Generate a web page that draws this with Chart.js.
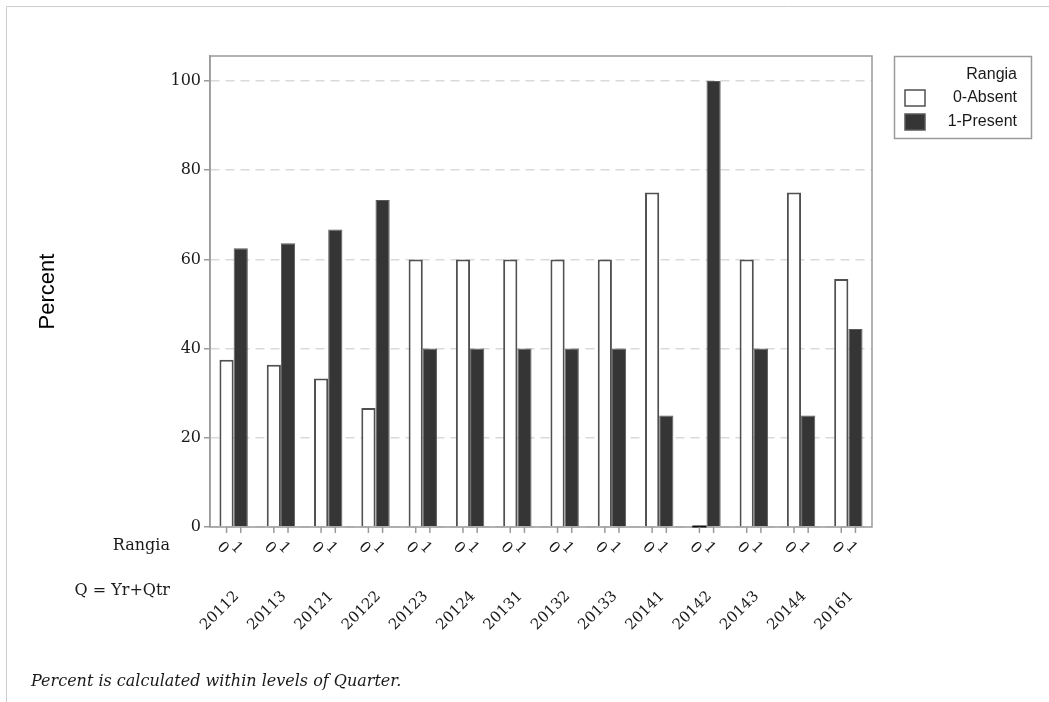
<!DOCTYPE html>
<html lang="en">
  <head>
    <title>Rangia by Quarter</title>
    <script src="https://cdn.jsdelivr.net/npm/chart.js"></script>
    <style>
      body { margin: 0; background: #fff; }
      #rangiaChart { position: absolute; left: 0; top: 0; }
    </style>
  </head>
  <body>
    <canvas id="rangiaChart" width="1049" height="702"></canvas>

    <script>
      // Quarter (Yr+Qtr) categories and percent within each quarter
      const quarters = ["20112", "20113", "20121", "20122", "20123", "20124", "20131",
        "20132", "20133", "20141", "20142", "20143", "20144", "20161"];
      const absentPct = [37.5, 36.4, 33.3, 26.7, 60, 60, 60, 60, 60, 75, 0, 60, 75, 55.6];
      const presentPct = [62.5, 63.6, 66.7, 73.3, 40, 40, 40, 40, 40, 25, 100, 40, 25, 44.4];
      const levelCodes = ["0", "1"];
      const levelNames = ["0-Absent", "1-Present"];

      const serif = "'DejaVu Serif', 'Liberation Serif', serif";
      const sans = "'Liberation Sans', Arial, sans-serif";
      const textColor = "#1a1a1a";
      const frameColor = "#9a9a9a";

      // draws the frame, the two rows of x labels, the legend and the footnote
      const extras = {
        id: "extras",
        beforeDraw(chart) {
          const c = chart.ctx;
          c.save();
          c.strokeStyle = "#cccccc";
          c.lineWidth = 1;
          c.beginPath();
          c.moveTo(6.5, 702);
          c.lineTo(6.5, 6.5);
          c.lineTo(1049, 6.5);
          c.stroke();
          c.restore();
        },
        afterDraw(chart) {
          const c = chart.ctx;
          const area = chart.chartArea;
          c.save();

          // plot frame
          c.strokeStyle = frameColor;
          c.lineWidth = 1.5;
          c.strokeRect(area.left, area.top, area.right - area.left, area.bottom - area.top);

          // tick marks and level labels under every bar
          c.font = "15px " + serif;
          c.textAlign = "center";
          c.textBaseline = "middle";
          chart.data.datasets.forEach((ds, d) => {
            chart.getDatasetMeta(d).data.forEach((bar, i) => {
              // a zero share still shows as a dark line on the baseline
              if (ds.data[i] === 0) {
                c.fillStyle = "#111";
                c.fillRect(bar.x - bar.width / 2, area.bottom - 1.5, bar.width, 2);
              }
              c.strokeStyle = frameColor;
              c.beginPath();
              c.moveTo(bar.x, area.bottom);
              c.lineTo(bar.x, area.bottom + 6);
              c.stroke();
              c.save();
              c.fillStyle = textColor;
              c.translate(bar.x - 4, area.bottom + 21);
              c.rotate(Math.PI / 4);
              c.fillText(levelCodes[d], 0, 0);
              c.restore();
            });
          });

          // quarter labels, rotated
          const xs = chart.scales.x;
          c.fillStyle = textColor;
          c.textAlign = "right";
          quarters.forEach((q, i) => {
            const x = xs.getPixelForValue(i);
            c.save();
            c.translate(x + 3, area.bottom + 67);
            c.rotate(-Math.PI / 4);
            c.fillText(q, 0, 0);
            c.restore();
          });

          // row labels
          c.font = "16px " + serif;
          c.fillText("Rangia", 170, area.bottom + 19);
          c.fillText("Q = Yr+Qtr", 170, area.bottom + 64);

          // footnote
          c.textAlign = "left";
          c.textBaseline = "alphabetic";
          c.font = "italic 16px " + serif;
          c.fillText("Percent is calculated within levels of Quarter.", 31, 686);

          // legend
          c.strokeStyle = frameColor;
          c.lineWidth = 1.5;
          c.strokeRect(894.5, 56.5, 137, 82);
          c.font = "16px " + sans;
          c.textAlign = "right";
          c.textBaseline = "middle";
          c.fillText("Rangia", 1017, 75);
          chart.data.datasets.forEach((ds, d) => {
            const y = 98 + d * 24;
            c.fillStyle = ds.backgroundColor;
            c.fillRect(905, y - 8, 20, 16);
            c.strokeStyle = ds.borderColor;
            c.lineWidth = 1.5;
            c.strokeRect(905, y - 8, 20, 16);
            c.fillStyle = textColor;
            c.fillText(levelNames[d], 1017, y);
          });
          c.restore();
        },
      };

      const ctx = document.getElementById("rangiaChart").getContext("2d");
      const chart = new Chart(ctx, {
        type: "bar",
        data: {
          labels: quarters,
          datasets: [
            {
              label: levelNames[0],
              data: absentPct,
              backgroundColor: "#ffffff",
              borderColor: "#505050",
              borderWidth: 2,
              categoryPercentage: 0.6,
              barPercentage: 1,
            },
            {
              label: levelNames[1],
              data: presentPct,
              backgroundColor: "#353535",
              borderColor: "#5a5a5a",
              borderWidth: 1,
              categoryPercentage: 0.6,
              barPercentage: 1,
            },
          ],
        },
        options: {
          responsive: false,
          devicePixelRatio: 1,
          animation: false,
          layout: {
            padding: { left: 30, top: 56, right: 177, bottom: 175 },
          },
          plugins: {
            legend: { display: false },
            tooltip: { enabled: false },
          },
          scales: {
            x: { display: false },
            y: {
              min: 0,
              max: 105.6,
              afterFit(scale) {
                scale.width = 180;
              },
              ticks: {
                stepSize: 20,
                includeBounds: false,
                padding: 3,
                color: textColor,
                font: { family: serif, size: 16 },
              },
              grid: {
                color: "#d9d9d9",
                lineWidth: 1.5,
                tickColor: frameColor,
                tickLength: 6,
                tickBorderDash: [],
              },
              border: {
                color: frameColor,
                width: 1.5,
                dash: [9, 6],
              },
              title: {
                display: true,
                text: "Percent",
                color: "#000",
                padding: { top: 5, bottom: 0 },
                font: { family: sans, size: 22 },
              },
            },
          },
        },
        plugins: [extras],
      });
    </script>
  </body>
</html>
